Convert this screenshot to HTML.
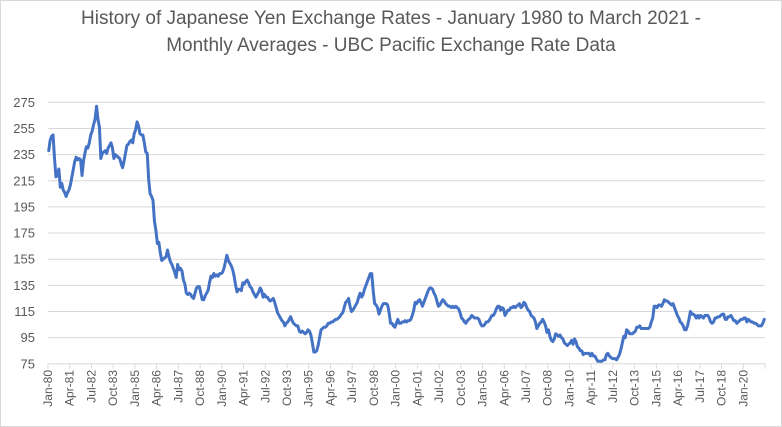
<!DOCTYPE html>
<html><head><meta charset="utf-8"><style>
body{margin:0;background:#fff;}
svg{display:block;font-family:"Liberation Sans",sans-serif;}
</style></head><body>
<svg id="chart" width="782" height="427">
<rect x="0.5" y="0.5" width="781" height="426" fill="#fff" stroke="#d9d9d9"/>
<text x="391" y="24" text-anchor="middle" font-size="19" fill="#595959">History of Japanese Yen Exchange Rates - January 1980 to March 2021 -</text>
<text x="391" y="51" text-anchor="middle" font-size="19" fill="#595959">Monthly Averages - UBC Pacific Exchange Rate Data</text>
<g id="grid"></g><g id="yticks"></g><g id="xticks"></g><g id="series"></g>
</svg>
<script>
const yTicks=[75,95,115,135,155,175,195,215,235,255,275];
const xLabels=["Jan-80","Apr-81","Jul-82","Oct-83","Jan-85","Apr-86","Jul-87","Oct-88","Jan-90","Apr-91","Jul-92","Oct-93","Jan-95","Apr-96","Jul-97","Oct-98","Jan-00","Apr-01","Jul-02","Oct-03","Jan-05","Apr-06","Jul-07","Oct-08","Jan-10","Apr-11","Jul-12","Oct-13","Jan-15","Apr-16","Jul-17","Oct-18","Jan-20"];
const rates=[
238,246,249,250,232,218,219,224,210,213,208,206,
203,206,208,212,218,224,230,233,231,232,231,219,
230,236,241,240,244,250,253,258,262,272,262,256,
232,236,237,238,236,240,242,244,240,232,235,234,
233,232,228,225,230,236,242,243,245,246,244,251,
254,260,257,251,250,250,244,237,236,216,205,203,
200,184,177,167,168,160,154,155,156,157,162,157,
153,151,148,145,141,151,147,148,146,139,136,129,
128,129,128,126,125,129,133,134,134,129,124,124,
127,129,131,137,142,141,144,142,143,142,144,144,
145,148,153,158,154,152,150,147,142,135,130,132,
132,131,137,136,138,139,137,134,133,130,128,126,
128,130,133,131,126,128,126,126,124,123,124,125,
122,118,114,112,110,108,107,104,106,107,109,111,
108,106,105,104,104,100,99,100,99,98,99,101,
100,97,91,84,84,85,89,95,101,102,103,103,
104,106,106,107,107,108,109,109,110,111,113,114,
118,122,123,125,119,115,116,118,120,122,126,129,
126,128,132,135,138,141,144,144,131,121,120,118,
113,116,119,121,121,121,120,114,106,106,104,103,
106,109,106,106,107,107,108,107,108,108,109,112,
116,122,121,123,124,122,119,122,125,128,131,133,
133,132,129,127,123,119,120,122,124,123,121,120,
119,119,118,119,118,119,118,117,114,110,109,107,
106,108,109,110,112,111,110,110,110,109,106,104,
104,105,107,107,108,110,112,112,114,117,119,119,
116,118,117,112,114,116,116,118,118,119,118,119,
120,121,118,119,122,121,118,116,115,112,111,110,
107,102,104,106,107,109,107,104,99,101,96,93,
92,94,98,97,96,97,95,94,91,90,89,90,
91,93,90,94,92,88,87,85,85,82,83,83,
83,83,81,83,81,81,79,77,77,77,77,78,
78,82,83,81,80,79,79,79,78,80,82,86,
91,96,95,101,100,98,98,98,99,100,103,103,
104,102,102,102,102,102,102,103,107,110,119,119,
118,120,120,119,121,124,123,123,122,121,120,121,
118,115,112,110,107,106,104,101,101,104,109,115,
113,113,112,110,112,110,112,111,110,112,112,112,
110,107,106,107,110,110,111,111,112,113,113,109,
109,111,111,112,110,108,108,106,107,108,109,109,
110,110,107,109,108,107,107,106,106,105,104,104,
104,106,109];
const NS="http://www.w3.org/2000/svg";
const L=48,R=765,T=102.3,B=363.8,yMin=75,yMax=275,perTick=15;
const n=rates.length;
const xScale=i=>L+(i+0.5)*(R-L)/(xLabels.length*perTick);
const xTick=k=>L+k*perTick*(R-L)/(xLabels.length*perTick);
const yScale=v=>B-(v-yMin)/(yMax-yMin)*(B-T);
function mk(tag,attrs,parent){const e=document.createElementNS(NS,tag);for(const k in attrs)e.setAttribute(k,attrs[k]);parent.appendChild(e);return e;}
const grid=document.getElementById('grid'),yt=document.getElementById('yticks'),xt=document.getElementById('xticks'),ser=document.getElementById('series');
yTicks.forEach(v=>{
  const y=yScale(v);
  if(v!==yMin){const g=mk('line',{x1:L,x2:R,y1:y,y2:y,stroke:'#d9d9d9','stroke-width':1},grid);
  
  }
  const t=mk('text',{x:35,y:y+4.5,'text-anchor':'end','font-size':13,fill:'#595959'},yt);
  t.textContent=v;
  
  
});
const ax=mk('line',{x1:L,x2:R,y1:B,y2:B,stroke:'#d9d9d9','stroke-width':1},xt);


for(let k=0;k<=xLabels.length;k++){
  const x=xTick(k);
  const tk=mk('line',{x1:x,x2:x,y1:B,y2:B+5,stroke:'#d9d9d9'},xt);
  
  
}
xLabels.forEach((lab,k)=>{
  const x=xTick(k)+4;
  const t=mk('text',{x:0,y:0,'text-anchor':'end','font-size':12,fill:'#595959',transform:`translate(${x},370) rotate(-90)`},xt);
  t.textContent=lab;
  
  
});
const d=rates.map((v,i)=>(i?'L':'M')+xScale(i).toFixed(2)+' '+yScale(v).toFixed(2)).join(' ');
const p=mk('path',{d:d,fill:'none',stroke:'#4472C4','stroke-width':3,'stroke-linejoin':'round','stroke-linecap':'round'},ser);


</script>
</body></html>
